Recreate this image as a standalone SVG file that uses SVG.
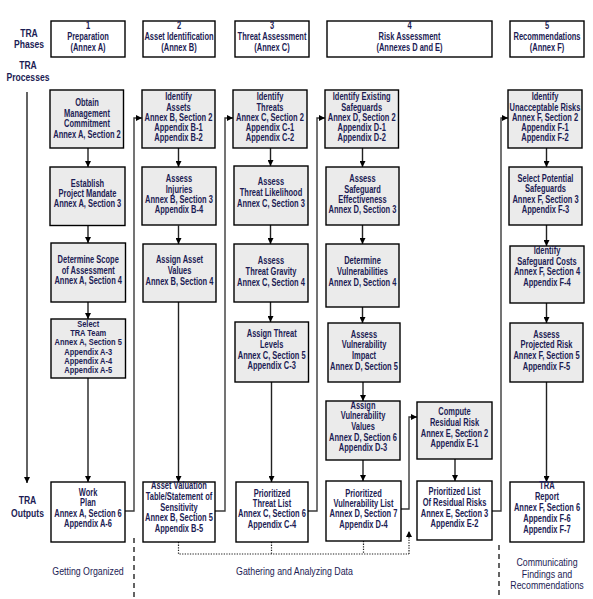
<svg xmlns="http://www.w3.org/2000/svg" width="593" height="599" viewBox="0 0 593 599">
<style>
.box{fill:#ebebeb;stroke:#000;stroke-width:1.4}
.wbox{fill:#fff;stroke:#000;stroke-width:1.4}
.t{font-family:"Liberation Sans",Arial,sans-serif;font-weight:bold;font-size:10px;fill:#1c1c54;text-anchor:middle}
.ts{font-family:"Liberation Sans",Arial,sans-serif;font-weight:bold;font-size:9px;fill:#1c1c54;text-anchor:middle}
.lbl{font-family:"Liberation Sans",Arial,sans-serif;font-weight:bold;font-size:11px;fill:#1c1c54;text-anchor:middle}
.bot{font-family:"Liberation Sans",Arial,sans-serif;font-size:11px;fill:#1c1c54;text-anchor:middle}
.ln{fill:none;stroke:#222;stroke-width:1.4}
.cn{fill:none;stroke:#3a3a3a;stroke-width:1.4}
.dot{fill:none;stroke:#222;stroke-width:1.2;stroke-dasharray:1.3 1.3}
.dash{fill:none;stroke:#222;stroke-width:1.4;stroke-dasharray:5 4}
</style>
<defs>
<marker id="arr" markerUnits="userSpaceOnUse" markerWidth="6" markerHeight="6" refX="6" refY="3" orient="auto">
<path d="M0,0 L6,3 L0,6 z" fill="#000"/>
</marker>
</defs>

<g id="labels">
<g transform="translate(29 0) scale(0.78 1)"><text class="lbl"><tspan x="0" y="37">TRA</tspan><tspan x="0" y="48">Phases</tspan></text></g>
<g transform="translate(28 0) scale(0.78 1)"><text class="lbl"><tspan x="0" y="69">TRA</tspan><tspan x="0" y="81.5">Processes</tspan></text></g>
<g transform="translate(27.5 0) scale(0.78 1)"><text class="lbl"><tspan x="0" y="504.5">TRA</tspan><tspan x="0" y="517">Outputs</tspan></text></g>
<g transform="translate(88 0) scale(0.8 1)"><text class="bot"><tspan x="0" y="575.5">Getting Organized</tspan></text></g>
<g transform="translate(294.5 0) scale(0.8 1)"><text class="bot"><tspan x="0" y="575.5">Gathering and Analyzing Data</tspan></text></g>
<g transform="translate(547 0) scale(0.8 1)"><text class="bot"><tspan x="0" y="566">Communicating</tspan><tspan x="0" y="578">Findings and</tspan><tspan x="0" y="589.5">Recommendations</tspan></text></g>
</g>

<g id="connectors">
<path class="ln" d="M27,92 V483" marker-end="url(#arr)"/>
<path class="ln" d="M88,148 V167" marker-end="url(#arr)"/>
<path class="ln" d="M88,225.5 V243" marker-end="url(#arr)"/>
<path class="ln" d="M88,302 V319" marker-end="url(#arr)"/>
<path class="ln" d="M88,378 V482" marker-end="url(#arr)"/>
<path class="ln" d="M178.5,148 V167" marker-end="url(#arr)"/>
<path class="ln" d="M178.5,225.5 V244" marker-end="url(#arr)"/>
<path class="ln" d="M178.5,302 V482" marker-end="url(#arr)"/>
<path class="ln" d="M270.5,148 V166" marker-end="url(#arr)"/>
<path class="ln" d="M270.5,225 V244" marker-end="url(#arr)"/>
<path class="ln" d="M270.5,302 V322" marker-end="url(#arr)"/>
<path class="ln" d="M271.5,382 V482" marker-end="url(#arr)"/>
<path class="ln" d="M362.5,148 V167" marker-end="url(#arr)"/>
<path class="ln" d="M362.5,225 V244" marker-end="url(#arr)"/>
<path class="ln" d="M362.5,307 V323" marker-end="url(#arr)"/>
<path class="ln" d="M363,382 V401" marker-end="url(#arr)"/>
<path class="ln" d="M363,460 V481" marker-end="url(#arr)"/>
<path class="ln" d="M455,459 V481" marker-end="url(#arr)"/>
<path class="ln" d="M546.5,148 V167" marker-end="url(#arr)"/>
<path class="ln" d="M546.5,225 V246" marker-end="url(#arr)"/>
<path class="ln" d="M546.5,303 V323" marker-end="url(#arr)"/>
<path class="ln" d="M546.5,382 V482" marker-end="url(#arr)"/>
<path class="cn" d="M125,511 H134 V118 H142" marker-end="url(#arr)"/>
<path class="cn" d="M215,511 H225 V118 H233" marker-end="url(#arr)"/>
<path class="cn" d="M308,511 H317 V118 H325" marker-end="url(#arr)"/>
<path class="cn" d="M401,509 H409 V417 H417" marker-end="url(#arr)"/>
<path class="cn" d="M492,511 H501 V118 H508" marker-end="url(#arr)"/>
<path class="dot" d="M178.5,542 V554 H409"/>
<path class="dot" d="M271.5,542 V554"/>
<path class="dot" d="M363.5,541 V554"/>
<path class="dot" d="M409,554 V531" marker-end="url(#arr)"/>
<path class="dash" d="M134,538 V599"/>
<path class="dash" d="M499,545 V599"/>
</g>

<g id="phase1"><rect class="wbox" x="51" y="21" width="74" height="36"/><g transform="translate(88 0) scale(0.75 1)"><text class="t"><tspan x="0" y="29.5">1</tspan><tspan x="0" y="40.5">Preparation</tspan><tspan x="0" y="51.5">(Annex A)</tspan></text></g></g>
<g id="phase2"><rect class="wbox" x="143" y="21" width="72" height="36"/><g transform="translate(179 0) scale(0.75 1)"><text class="t"><tspan x="0" y="29.5">2</tspan><tspan x="0" y="40.5">Asset Identification</tspan><tspan x="0" y="51.5">(Annex B)</tspan></text></g></g>
<g id="phase3"><rect class="wbox" x="235" y="21" width="74" height="36"/><g transform="translate(272 0) scale(0.75 1)"><text class="t"><tspan x="0" y="29.5">3</tspan><tspan x="0" y="40.5">Threat Assessment</tspan><tspan x="0" y="51.5">(Annex C)</tspan></text></g></g>
<g id="phase4"><rect class="wbox" x="327" y="21" width="165" height="36"/><g transform="translate(409.5 0) scale(0.75 1)"><text class="t"><tspan x="0" y="29.5">4</tspan><tspan x="0" y="40.5">Risk Assessment</tspan><tspan x="0" y="51.5">(Annexes D and E)</tspan></text></g></g>
<g id="phase5"><rect class="wbox" x="510" y="21" width="74" height="36"/><g transform="translate(547 0) scale(0.75 1)"><text class="t"><tspan x="0" y="29.5">5</tspan><tspan x="0" y="40.5">Recommendations</tspan><tspan x="0" y="51.5">(Annex F)</tspan></text></g></g>

<g id="obtain"><rect class="box" x="50" y="90" width="73.5" height="58"/><g transform="translate(87 0) scale(0.75 1)"><text class="t"><tspan x="0" y="106">Obtain</tspan><tspan x="0" y="117">Management</tspan><tspan x="0" y="127.5">Commitment</tspan><tspan x="0" y="138">Annex A, Section 2</tspan></text></g></g>
<g id="establish"><rect class="box" x="50" y="167" width="75" height="58.5"/><g transform="translate(87.5 0) scale(0.75 1)"><text class="t"><tspan x="0" y="187">Establish</tspan><tspan x="0" y="197.2">Project Mandate</tspan><tspan x="0" y="207.5">Annex A, Section 3</tspan></text></g></g>
<g id="scope"><rect class="box" x="51" y="243" width="74.5" height="59"/><g transform="translate(88.2 0) scale(0.75 1)"><text class="t"><tspan x="0" y="263">Determine Scope</tspan><tspan x="0" y="274">of Assessment</tspan><tspan x="0" y="284.5">Annex A, Section 4</tspan></text></g></g>
<g id="team"><rect class="box" x="51" y="319" width="74.5" height="59"/><g transform="translate(88.2 0) scale(0.83 1)"><text class="ts"><tspan x="0" y="327">Select</tspan><tspan x="0" y="336.2">TRA Team</tspan><tspan x="0" y="345.4">Annex A, Section 5</tspan><tspan x="0" y="354.6">Appendix A-3</tspan><tspan x="0" y="363.8">Appendix A-4</tspan><tspan x="0" y="373">Appendix A-5</tspan></text></g></g>

<g id="assets"><rect class="box" x="142" y="90" width="73" height="58"/><g transform="translate(178.5 0) scale(0.75 1)"><text class="t"><tspan x="0" y="100.5">Identify</tspan><tspan x="0" y="110.8">Assets</tspan><tspan x="0" y="121">Annex B, Section 2</tspan><tspan x="0" y="131.3">Appendix B-1</tspan><tspan x="0" y="141.5">Appendix B-2</tspan></text></g></g>
<g id="injuries"><rect class="box" x="142" y="167" width="74" height="58"/><g transform="translate(179 0) scale(0.75 1)"><text class="t"><tspan x="0" y="182.3">Assess</tspan><tspan x="0" y="192.6">Injuries</tspan><tspan x="0" y="203">Annex B, Section 3</tspan><tspan x="0" y="213.5">Appendix B-4</tspan></text></g></g>
<g id="assetvalues"><rect class="box" x="143" y="244" width="73" height="58"/><g transform="translate(179.5 0) scale(0.75 1)"><text class="t"><tspan x="0" y="263">Assign Asset</tspan><tspan x="0" y="274.5">Values</tspan><tspan x="0" y="285.5">Annex B, Section 4</tspan></text></g></g>

<g id="threats"><rect class="box" x="233" y="90" width="74" height="58"/><g transform="translate(270 0) scale(0.75 1)"><text class="t"><tspan x="0" y="100.5">Identify</tspan><tspan x="0" y="110.8">Threats</tspan><tspan x="0" y="121">Annex C, Section 2</tspan><tspan x="0" y="131.3">Appendix C-1</tspan><tspan x="0" y="141.5">Appendix C-2</tspan></text></g></g>
<g id="likelihood"><rect class="box" x="234" y="166" width="74" height="59"/><g transform="translate(271 0) scale(0.75 1)"><text class="t"><tspan x="0" y="185">Assess</tspan><tspan x="0" y="196.3">Threat Likelihood</tspan><tspan x="0" y="207.3">Annex C, Section 3</tspan></text></g></g>
<g id="gravity"><rect class="box" x="234" y="244" width="74" height="58"/><g transform="translate(271 0) scale(0.75 1)"><text class="t"><tspan x="0" y="264.3">Assess</tspan><tspan x="0" y="275.3">Threat Gravity</tspan><tspan x="0" y="286.3">Annex C, Section 4</tspan></text></g></g>
<g id="levels"><rect class="box" x="235" y="322" width="73.5" height="60"/><g transform="translate(271.7 0) scale(0.75 1)"><text class="t"><tspan x="0" y="337.5">Assign Threat</tspan><tspan x="0" y="348.3">Levels</tspan><tspan x="0" y="359">Annex C, Section 5</tspan><tspan x="0" y="369.5">Appendix C-3</tspan></text></g></g>

<g id="safeguards"><rect class="box" x="325" y="90" width="73.5" height="58"/><g transform="translate(361.7 0) scale(0.75 1)"><text class="t"><tspan x="0" y="100.5">Identify Existing</tspan><tspan x="0" y="110.8">Safeguards</tspan><tspan x="0" y="121">Annex D, Section 2</tspan><tspan x="0" y="131.3">Appendix D-1</tspan><tspan x="0" y="141.5">Appendix D-2</tspan></text></g></g>
<g id="effectiveness"><rect class="box" x="326" y="167" width="73" height="58"/><g transform="translate(362.5 0) scale(0.75 1)"><text class="t"><tspan x="0" y="182.3">Assess</tspan><tspan x="0" y="192.6">Safeguard</tspan><tspan x="0" y="203">Effectiveness</tspan><tspan x="0" y="213.5">Annex D, Section 3</tspan></text></g></g>
<g id="vulnerabilities"><rect class="box" x="326" y="244" width="73" height="63"/><g transform="translate(362.5 0) scale(0.75 1)"><text class="t"><tspan x="0" y="264">Determine</tspan><tspan x="0" y="275">Vulnerabilities</tspan><tspan x="0" y="286">Annex D, Section 4</tspan></text></g></g>
<g id="impact"><rect class="box" x="328" y="323" width="72" height="59"/><g transform="translate(364 0) scale(0.75 1)"><text class="t"><tspan x="0" y="337.7">Assess</tspan><tspan x="0" y="348.3">Vulnerability</tspan><tspan x="0" y="359">Impact</tspan><tspan x="0" y="370">Annex D, Section 5</tspan></text></g></g>
<g id="vulnvalues"><rect class="box" x="326" y="401" width="74" height="59"/><g transform="translate(363 0) scale(0.75 1)"><text class="t"><tspan x="0" y="408.7">Assign</tspan><tspan x="0" y="419.5">Vulnerability</tspan><tspan x="0" y="430.3">Values</tspan><tspan x="0" y="441">Annex D, Section 6</tspan><tspan x="0" y="451.5">Appendix D-3</tspan></text></g></g>
<g id="residual"><rect class="box" x="417" y="402" width="75" height="57"/><g transform="translate(454.5 0) scale(0.75 1)"><text class="t"><tspan x="0" y="415">Compute</tspan><tspan x="0" y="426.5">Residual Risk</tspan><tspan x="0" y="436.8">Annex E, Section 2</tspan><tspan x="0" y="447.5">Appendix E-1</tspan></text></g></g>

<g id="unacceptable"><rect class="box" x="508" y="90" width="74" height="58"/><g transform="translate(545 0) scale(0.75 1)"><text class="t"><tspan x="0" y="100.5">Identify</tspan><tspan x="0" y="110.8">Unacceptable Risks</tspan><tspan x="0" y="121">Annex F, Section 2</tspan><tspan x="0" y="131.3">Appendix F-1</tspan><tspan x="0" y="141.5">Appendix F-2</tspan></text></g></g>
<g id="potential"><rect class="box" x="509" y="167" width="73" height="58"/><g transform="translate(545.5 0) scale(0.75 1)"><text class="t"><tspan x="0" y="182">Select Potential</tspan><tspan x="0" y="192.5">Safeguards</tspan><tspan x="0" y="203">Annex F, Section 3</tspan><tspan x="0" y="213.5">Appendix F-3</tspan></text></g></g>
<g id="costs"><rect class="box" x="510" y="246" width="74" height="57"/><g transform="translate(547 0) scale(0.75 1)"><text class="t"><tspan x="0" y="254">Identify</tspan><tspan x="0" y="265">Safeguard Costs</tspan><tspan x="0" y="275.5">Annex F, Section 4</tspan><tspan x="0" y="286">Appendix F-4</tspan></text></g></g>
<g id="projected"><rect class="box" x="510" y="323" width="73" height="59"/><g transform="translate(546.5 0) scale(0.75 1)"><text class="t"><tspan x="0" y="337.7">Assess</tspan><tspan x="0" y="348.3">Projected Risk</tspan><tspan x="0" y="359">Annex F, Section 5</tspan><tspan x="0" y="370">Appendix F-5</tspan></text></g></g>

<g id="workplan"><rect class="wbox" x="51" y="482" width="74" height="60"/><g transform="translate(88 0) scale(0.75 1)"><text class="t"><tspan x="0" y="496">Work</tspan><tspan x="0" y="506.5">Plan</tspan><tspan x="0" y="517.3">Annex A, Section 6</tspan><tspan x="0" y="527.5">Appendix A-6</tspan></text></g></g>
<g id="assettable"><rect class="wbox" x="143" y="482" width="72" height="60"/><g transform="translate(179 0) scale(0.75 1)"><text class="t"><tspan x="0" y="489.3">Asset Valuation</tspan><tspan x="0" y="499.9">Table/Statement of</tspan><tspan x="0" y="510.6">Sensitivity</tspan><tspan x="0" y="521.4">Annex B, Section 5</tspan><tspan x="0" y="532.2">Appendix B-5</tspan></text></g></g>
<g id="threatlist"><rect class="wbox" x="236" y="482" width="72" height="60"/><g transform="translate(272 0) scale(0.75 1)"><text class="t"><tspan x="0" y="496.7">Prioritized</tspan><tspan x="0" y="507">Threat List</tspan><tspan x="0" y="517.5">Annex C, Section 6</tspan><tspan x="0" y="527.7">Appendix C-4</tspan></text></g></g>
<g id="vulnlist"><rect class="wbox" x="326" y="481" width="75" height="60"/><g transform="translate(363.5 0) scale(0.75 1)"><text class="t"><tspan x="0" y="496.7">Prioritized</tspan><tspan x="0" y="507">Vulnerability List</tspan><tspan x="0" y="517.5">Annex D, Section 7</tspan><tspan x="0" y="527.7">Appendix D-4</tspan></text></g></g>
<g id="residuallist"><rect class="wbox" x="417" y="481" width="75" height="59"/><g transform="translate(454.5 0) scale(0.75 1)"><text class="t"><tspan x="0" y="495">Prioritized List</tspan><tspan x="0" y="506">Of Residual Risks</tspan><tspan x="0" y="516.7">Annex E, Section 3</tspan><tspan x="0" y="527.3">Appendix E-2</tspan></text></g></g>
<g id="report"><rect class="wbox" x="510" y="482" width="74" height="60"/><g transform="translate(547 0) scale(0.75 1)"><text class="t"><tspan x="0" y="489">TRA</tspan><tspan x="0" y="500.5">Report</tspan><tspan x="0" y="511.5">Annex F, Section 6</tspan><tspan x="0" y="522">Appendix F-6</tspan><tspan x="0" y="533">Appendix F-7</tspan></text></g></g>
</svg>
